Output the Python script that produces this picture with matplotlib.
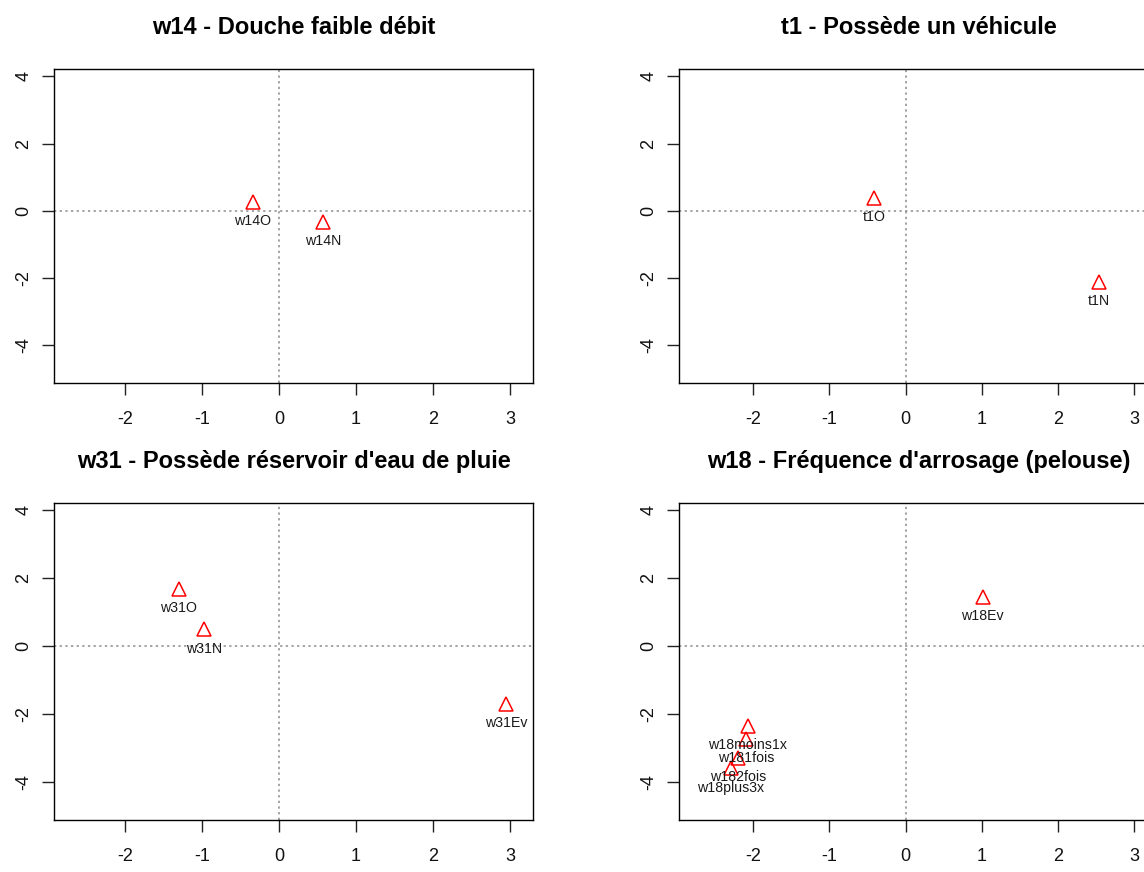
import matplotlib
matplotlib.use("Agg")
import matplotlib.pyplot as plt

plt.rcParams.update({"font.family": ["Liberation Sans", "DejaVu Sans"],
                     "axes.linewidth": 1.0})

# category coordinates on the first two factorial axes, one block per variable
w14_title = "w14 - Douche faible débit"
w14_labels = ["w14O", "w14N"]
w14_x = [-0.34, 0.57]
w14_y = [0.27, -0.33]

t1_title = "t1 - Possède un véhicule"
t1_labels = ["t1O", "t1N"]
t1_x = [-0.41, 2.54]
t1_y = [0.39, -2.11]

w31_title = "w31 - Possède réservoir d'eau de pluie"
w31_labels = ["w31O", "w31N", "w31Ev"]
w31_x = [-1.30, -0.97, 2.95]
w31_y = [1.69, 0.50, -1.69]

w18_title = "w18 - Fréquence d'arrosage (pelouse)"
w18_labels = ["w18Ev", "w18moins1x", "w181fois", "w182fois", "w18plus3x"]
w18_x = [1.01, -2.07, -2.09, -2.20, -2.29]
w18_y = [1.45, -2.34, -2.73, -3.29, -3.59]

x_ticks = [-2, -1, 0, 1, 2, 3]
y_ticks = [-4, -2, 0, 2, 4]

W, H = 1144, 872
fig = plt.figure(figsize=(W / 100, H / 100), dpi=100)


def px_axes(left, top, right, bottom):
    return fig.add_axes([left / W, 1 - bottom / H, (right - left) / W, (bottom - top) / H])


panels = [
    (px_axes(54, 69, 533, 383), (-2.92, 3.30), w14_title, w14_labels, w14_x, w14_y),
    (px_axes(679, 69, 1158, 383), (-2.97, 3.31), t1_title, t1_labels, t1_x, t1_y),
    (px_axes(54, 503, 533, 820), (-2.92, 3.30), w31_title, w31_labels, w31_x, w31_y),
    (px_axes(679, 503, 1158, 820), (-2.97, 3.31), w18_title, w18_labels, w18_x, w18_y),
]

for ax, xlim, title, labels, xs, ys in panels:
    ax.set_xlim(*xlim)
    ax.set_ylim(-5.12, 4.22)
    ax.axhline(0, color="#8c8c8c", lw=1.1, ls=(0, (1.5, 2.2)), zorder=1)
    ax.axvline(0, color="#8c8c8c", lw=1.1, ls=(0, (1.5, 2.2)), zorder=1)
    ax.plot(xs, ys, ls="none", marker="^", ms=9.5, mfc="none", mec="#ff0000", mew=1.1, zorder=3)
    for lab, x, y in zip(labels, xs, ys):
        ax.annotate(lab, (x, y), xytext=(0, -14), textcoords="offset points",
                    ha="center", va="center", fontsize=10.2, color="#1a1a1a", zorder=4)
    ax.set_xticks(x_ticks)
    ax.set_xticklabels([str(v) for v in x_ticks])
    ax.set_yticks(y_ticks)
    ax.set_yticklabels([str(v) for v in y_ticks], rotation=90, va="center")
    ax.tick_params(length=8.5, width=1.0, labelsize=13, color="#222222", labelcolor="#111111")
    ax.tick_params(axis="x", pad=12)
    ax.tick_params(axis="y", pad=7)
    ax.set_title(title, fontsize=17, fontweight="bold", pad=25)

fig.savefig("out.png", dpi=100)
